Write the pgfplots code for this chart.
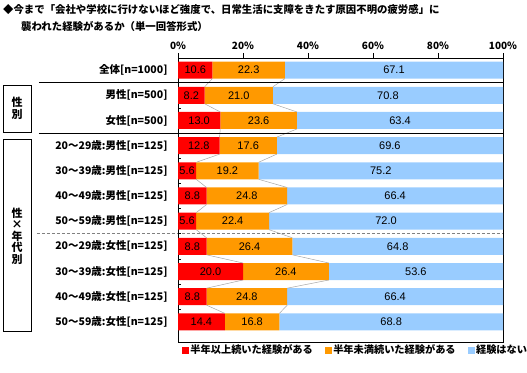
\documentclass[border=0pt]{standalone}
\usepackage{pgfplots}
\pgfplotsset{compat=1.18}
\usepackage{pgfplotstable}
\usepackage{fontspec}
\setmainfont{Noto Sans CJK JP}
\newfontfamily\arial{Liberation Sans}
\definecolor{cred}{HTML}{FF0000}
\definecolor{corange}{HTML}{FF9900}
\definecolor{cblue}{HTML}{99CCFF}
% y = category index, v = share (%), cx = centre of the segment (for its label)
\pgfplotstableread{
y v lab cx
0 10.6 10.6 5.3
1 8.2 8.2 4.1
2 13.0 13.0 6.5
3 12.8 12.8 6.4
4 5.6 5.6 2.8
5 8.8 8.8 4.4
6 5.6 5.6 2.8
7 8.8 8.8 4.4
8 20.0 20.0 10.0
9 8.8 8.8 4.4
10 14.4 14.4 7.2
}\tred
\pgfplotstableread{
y v lab cx
0 22.3 22.3 21.75
1 21.0 21.0 18.7
2 23.6 23.6 24.8
3 17.6 17.6 21.6
4 19.2 19.2 15.2
5 24.8 24.8 21.2
6 22.4 22.4 16.8
7 26.4 26.4 22.0
8 26.4 26.4 33.2
9 24.8 24.8 21.2
10 16.8 16.8 22.8
}\torange
\pgfplotstableread{
y v lab cx
0 67.1 67.1 66.45
1 70.8 70.8 64.6
2 63.4 63.4 68.3
3 69.6 69.6 65.2
4 75.2 75.2 62.4
5 66.4 66.4 66.8
6 72.0 72.0 64.0
7 64.8 64.8 67.6
8 53.6 53.6 73.2
9 66.4 66.4 66.8
10 68.8 68.8 65.6
}\tblue
\begin{document}
\begin{tikzpicture}
\path[use as bounding box] (0,0) rectangle (527bp,-373bp);
\node[anchor=west,inner sep=0pt,font=\bfseries\fontsize{10.4bp}{12bp}\selectfont] at (3bp,-10bp) {◆今まで「会社や学校に行けないほど強度で、日常生活に支障をきたす原因不明の疲労感」に};
\node[anchor=west,inner sep=0pt,font=\bfseries\fontsize{10.4bp}{12bp}\selectfont] at (21bp,-26bp) {襲われた経験があるか（単一回答形式）};
\begin{axis}[
  at={(178bp,-58bp)}, anchor=north west,
  scale only axis, width=325bp, height=284bp,
  xbar stacked, bar width=0.675,
  xmin=0, xmax=100, ymin=-0.48, ymax=10.8, y dir=reverse,
  axis line style={line width=0.8bp},
  xtick={0,20,40,60,80,100},
  xticklabels={0\%,20\%,40\%,60\%,80\%,100\%},
  xtick pos=upper, xticklabel pos=upper,
  tick align=outside, major tick length=5bp,
  x tick style={line width=0.6bp,black},
  ytick={0,...,10},
  y tick style={draw=none},
  yticklabels={{全体[n=1000]},{男性[n=500]},{女性[n=500]},{20～29歳:男性[n=125]},{30～39歳:男性[n=125]},{40～49歳:男性[n=125]},{50～59歳:男性[n=125]},{20～29歳:女性[n=125]},{30～39歳:女性[n=125]},{40～49歳:女性[n=125]},{50～59歳:女性[n=125]}},
  yticklabel style={font=\bfseries\fontsize{10.5bp}{12bp}\selectfont, xshift=-2bp},
  xticklabel style={font=\bfseries\fontsize{10bp}{12bp}\selectfont},
  clip=false,
]
\addplot[fill=cred, draw=none] table[x=v, y=y] {\tred};
\addplot[fill=corange, draw=none] table[x=v, y=y] {\torange};
\addplot[fill=cblue, draw=none] table[x=v, y=y] {\tblue};
\end{axis}
\begin{axis}[
  at={(178bp,-58bp)}, anchor=north west,
  scale only axis, width=325bp, height=284bp,
  xmin=0, xmax=100, ymin=-0.48, ymax=10.8, y dir=reverse,
  hide axis, clip=false,
  legend columns=3,
  legend style={draw=none, fill=none, at={(0.012,-0.028)}, anchor=west, font=\bfseries\fontsize{10.2bp}{12bp}\selectfont, /tikz/every even column/.append style={column sep=10bp}, inner sep=0pt},
  lab/.style={draw=none, mark=none, forget plot, nodes near coords, point meta=explicit symbolic,
    every node near coord/.append style={anchor=center, inner sep=0pt, font=\arial\fontsize{11bp}{12bp}\selectfont}},
]
\addlegendimage{legend image code/.code={\fill[cred] (0bp,-3bp) rectangle (6bp,3bp);}}
\addlegendentry{半年以上続いた経験がある}
\addlegendimage{legend image code/.code={\fill[corange] (0bp,-3bp) rectangle (6bp,3bp);}}
\addlegendentry{半年未満続いた経験がある}
\addlegendimage{legend image code/.code={\fill[cblue] (0bp,-3bp) rectangle (6bp,3bp);}}
\addlegendentry{経験はない}
\addplot[color=gray!70, line width=0.5bp, unbounded coords=jump, mark=none, forget plot] coordinates {
(10.6,0.3375) (8.2,0.6625) (nan,nan)
(8.2,1.3375) (13.0,1.6625) (nan,nan)
(13.0,2.3375) (12.8,2.6625) (nan,nan)
(12.8,3.3375) (5.6,3.6625) (nan,nan)
(5.6,4.3375) (8.8,4.6625) (nan,nan)
(8.8,5.3375) (5.6,5.6625) (nan,nan)
(5.6,6.3375) (8.8,6.6625) (nan,nan)
(8.8,7.3375) (20.0,7.6625) (nan,nan)
(20.0,8.3375) (8.8,8.6625) (nan,nan)
(8.8,9.3375) (14.4,9.6625)
};
\addplot[color=gray!70, line width=0.5bp, unbounded coords=jump, mark=none, forget plot] coordinates {
(32.9,0.3375) (29.2,0.6625) (nan,nan)
(29.2,1.3375) (36.6,1.6625) (nan,nan)
(36.6,2.3375) (30.4,2.6625) (nan,nan)
(30.4,3.3375) (24.8,3.6625) (nan,nan)
(24.8,4.3375) (33.6,4.6625) (nan,nan)
(33.6,5.3375) (28.0,5.6625) (nan,nan)
(28.0,6.3375) (35.2,6.6625) (nan,nan)
(35.2,7.3375) (46.4,7.6625) (nan,nan)
(46.4,8.3375) (33.6,8.6625) (nan,nan)
(33.6,9.3375) (31.2,9.6625)
};
\addplot[lab] table[x=cx, y=y, meta=lab] {\tred};
\addplot[lab] table[x=cx, y=y, meta=lab] {\torange};
\addplot[lab] table[x=cx, y=y, meta=lab] {\tblue};
\draw[black, line width=0.9bp] (axis cs:-42.8,0.5) -- (axis cs:100,0.5);
\draw[black, line width=0.9bp] (axis cs:-42.8,2.5) -- (axis cs:100,2.5);
\draw[gray, line width=1bp, dash pattern=on 3bp off 2bp] (axis cs:-43.4,6.5) -- (axis cs:100,6.5);
\pgfplotsinvokeforeach{0.5,1.5,2.5,3.5,4.5,5.5,6.5,7.5,8.5,9.5}{
  \draw[black, line width=0.6bp] (axis cs:0,#1) -- (axis cs:1,#1);
}
\end{axis}
\draw[line width=0.8bp] (3bp,-85bp) rectangle (31bp,-132bp);
\node[align=center, inner sep=0pt, font=\bfseries\fontsize{11bp}{12bp}\selectfont] at (17bp,-108bp) {性\\別};
\draw[line width=0.8bp] (3bp,-139bp) rectangle (31bp,-331bp);
\node[align=center, inner sep=0pt, font=\bfseries\fontsize{11bp}{11.5bp}\selectfont] at (17bp,-236bp) {性\\×\\年\\代\\別};
\end{tikzpicture}
\end{document}
